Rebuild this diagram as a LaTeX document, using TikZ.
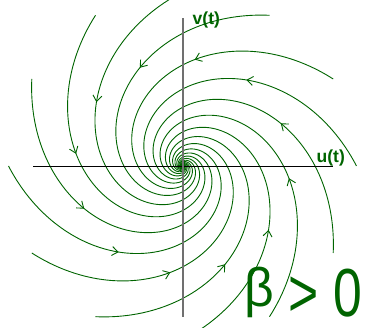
\documentclass[tikz,border=0pt]{standalone}
\usepackage{fontspec}
\setmainfont{Liberation Sans}
\usetikzlibrary{decorations.markings,arrows.meta}
\definecolor{dg}{RGB}{0,100,0}
\definecolor{axgray}{RGB}{112,112,112}
\tikzset{
  traj/.style={draw=dg, line width=0.9pt,
    postaction={decorate, decoration={markings,
      mark=at position 145pt with {\arrow[dg, line width=0.9pt]{Straight Barb[length=6pt,width=9pt]}}}}},
  axlbl/.style={text=dg, font=\bfseries\fontsize{17.5}{20}\selectfont, inner sep=0pt, anchor=base west},
}
\begin{document}
\begin{tikzpicture}[x=1pt,y=1pt]
\useasboundingbox (0,0) rectangle (365,328);
\begin{scope}
\clip (0,0) rectangle (365,328);
\foreach \a in {0,30,...,330} {
  \path[traj] plot[domain=0:11.5, samples=400, variable=\t]
    ({182.5+174*exp(-0.52*\t)*cos(\a+deg(\t))}, {162+174*exp(-0.52*\t)*sin(\a+deg(\t))});
}
\end{scope}
\coordinate (hl) at (33,161);
\coordinate (hr) at (333,161);
\coordinate (vb) at (183,11);
\coordinate (vt) at (183,310);
\draw[black, line width=1pt] (hl) -- (hr);
\draw[axgray, line width=1.6pt] (vb) -- (vt);
\node[axlbl] (vlab) at (192.5,303) {v(t)};
\node[axlbl] (ulab) at (316.5,165.5) {u(t)};
\node[text=dg, inner sep=0pt, anchor=base east, text depth=0pt, text height=50pt,
      font=\fontsize{68}{70}\selectfont] (beta) at (362,11)
  {\scalebox{0.76}[1]{\raisebox{0.15em}{\scalebox{1}[0.8]{β}} > 0}};
\end{tikzpicture}
\end{document}
